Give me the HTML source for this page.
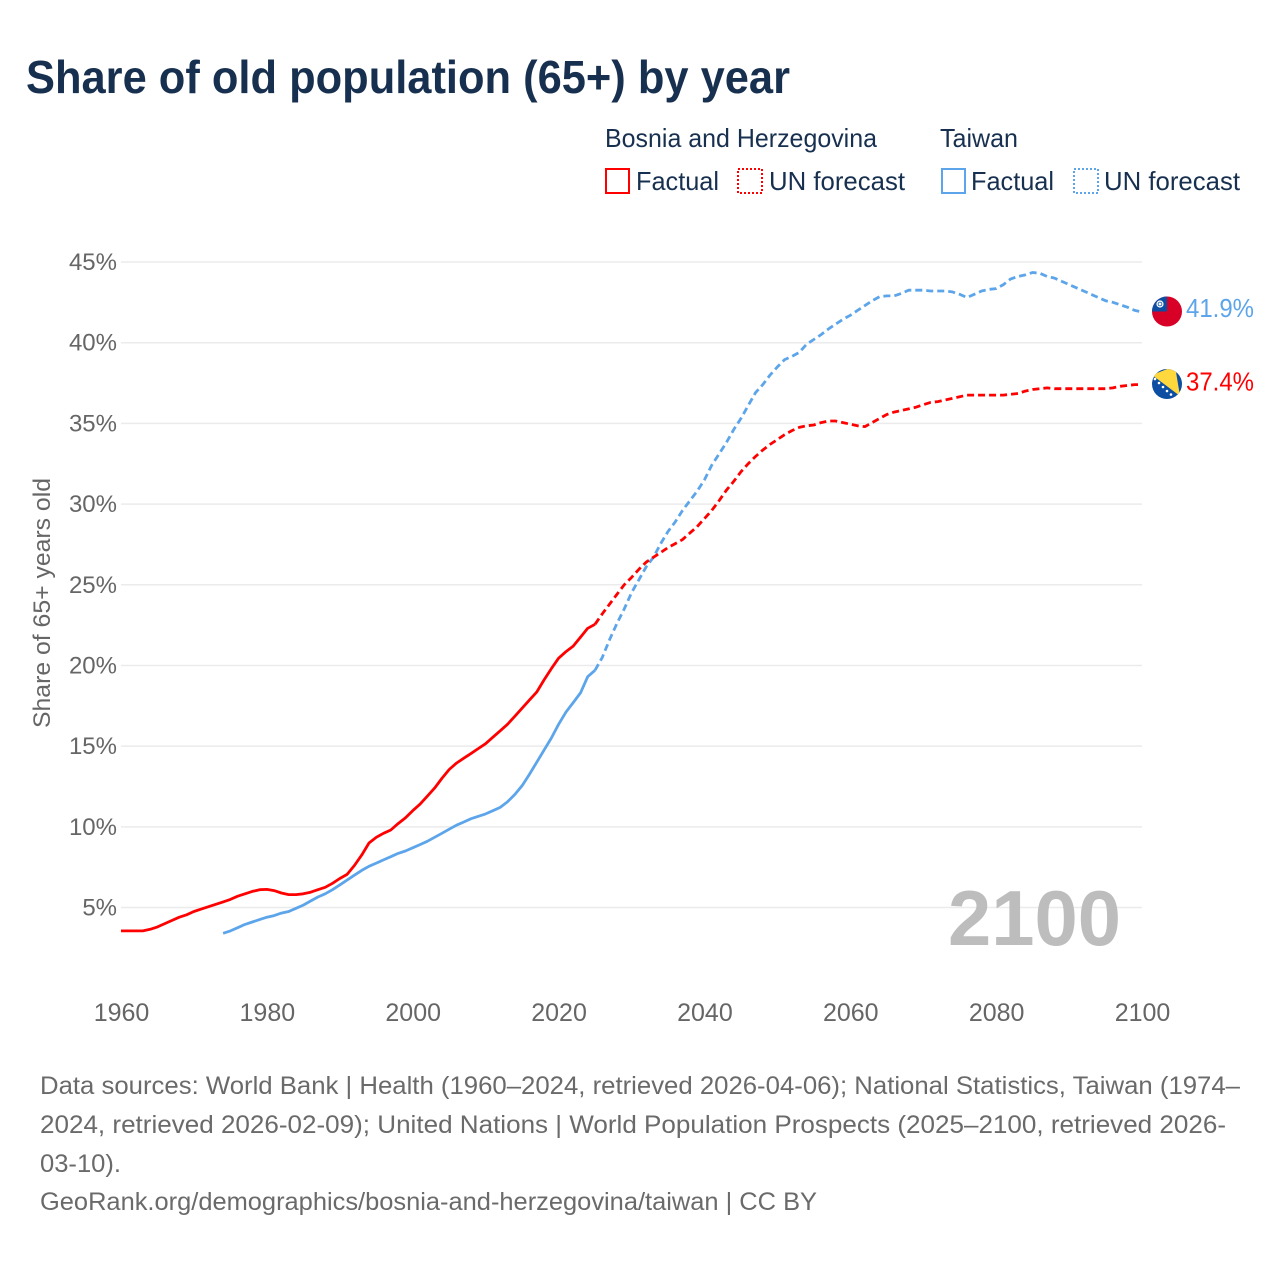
<!DOCTYPE html>
<html lang="en">
<head>
<meta charset="utf-8">
<title>Share of old population (65+) by year</title>
<style>
html,body{margin:0;padding:0;background:#fff;}
svg{display:block;font-family:"Liberation Sans",sans-serif;}
</style>
</head>
<body>
<svg id="chart" width="1280" height="1280" viewBox="0 0 1280 1280" xmlns="http://www.w3.org/2000/svg">
  <defs>
    <clipPath id="flag-clip-tw"><circle cx="1167" cy="311.5" r="15"/></clipPath>
    <clipPath id="flag-clip-ba"><circle cx="1167" cy="384" r="15"/></clipPath>
  </defs>
  <rect width="1280" height="1280" fill="#fff"/>
  <text x="26" y="93" font-size="46" font-weight="700" fill="#18304f" textLength="764" lengthAdjust="spacingAndGlyphs">Share of old population (65+) by year</text>

  <g font-size="26" fill="#18304f">
    <text x="605" y="147" textLength="272" lengthAdjust="spacingAndGlyphs">Bosnia and Herzegovina</text>
    <text x="940" y="147" textLength="78" lengthAdjust="spacingAndGlyphs">Taiwan</text>
    <rect x="606" y="169" width="23" height="24" fill="none" stroke="#ff0000" stroke-width="2"/>
    <text x="636" y="190" textLength="83" lengthAdjust="spacingAndGlyphs">Factual</text>
    <rect x="738" y="169" width="24" height="24" fill="none" stroke="#ff0000" stroke-width="2" stroke-dasharray="2 2"/>
    <text x="769" y="190" textLength="136" lengthAdjust="spacingAndGlyphs">UN forecast</text>
    <rect x="942" y="169" width="23" height="24" fill="none" stroke="#5da5ea" stroke-width="2"/>
    <text x="971" y="190" textLength="83" lengthAdjust="spacingAndGlyphs">Factual</text>
    <rect x="1074" y="169" width="24" height="24" fill="none" stroke="#5da5ea" stroke-width="2" stroke-dasharray="2 2"/>
    <text x="1104" y="190" textLength="136" lengthAdjust="spacingAndGlyphs">UN forecast</text>
  </g>

  <g id="grid"></g>
  <g id="y-ticks"></g>
  <g id="x-ticks"></g>
  <text transform="translate(50,603) rotate(-90)" text-anchor="middle" font-size="24" fill="#666" textLength="250" lengthAdjust="spacingAndGlyphs">Share of 65+ years old</text>

  <text x="948" y="945" font-size="78" font-weight="700" fill="#bdbdbd" textLength="173" lengthAdjust="spacingAndGlyphs">2100</text>

  <g id="series"></g>

  <g clip-path="url(#flag-clip-tw)">
    <rect x="1150" y="295" width="34" height="34" fill="#d80027"/>
    <rect x="1150" y="295" width="17" height="16.5" fill="#0b4ea2"/>
    <circle cx="1160" cy="304" r="3.6" fill="#fff"/>
    <circle cx="1160" cy="304" r="2.3" fill="#0b4ea2"/>
    <circle cx="1160" cy="304" r="1.5" fill="#fff"/>
  </g>
  <g clip-path="url(#flag-clip-ba)">
    <rect x="1150" y="367" width="34" height="34" fill="#0b4ea2"/>
    <polygon points="1152,375 1175,366 1180,396" fill="#ffd83d"/>
    <g fill="#fff">
      <circle cx="1155" cy="379" r="1.3"/>
      <circle cx="1159" cy="383" r="1.3"/>
      <circle cx="1163" cy="387" r="1.3"/>
      <circle cx="1167" cy="391" r="1.3"/>
      <circle cx="1171" cy="394.5" r="1.3"/>
    </g>
  </g>
  <text id="label-tw" x="1186" y="317" font-size="26" fill="#5da5ea" textLength="68" lengthAdjust="spacingAndGlyphs"></text>
  <text id="label-ba" x="1186" y="390.5" font-size="26" fill="#ff0000" textLength="68" lengthAdjust="spacingAndGlyphs"></text>

  <g font-size="25" fill="#6a6a6a">
    <text x="40" y="1094" textLength="1200" lengthAdjust="spacingAndGlyphs">Data sources: World Bank | Health (1960–2024, retrieved 2026-04-06); National Statistics, Taiwan (1974–</text>
    <text x="40" y="1133" textLength="1186" lengthAdjust="spacingAndGlyphs">2024, retrieved 2026-02-09); United Nations | World Population Prospects (2025–2100, retrieved 2026-</text>
    <text x="40" y="1172" textLength="81" lengthAdjust="spacingAndGlyphs">03-10).</text>
    <text x="40" y="1210" textLength="777" lengthAdjust="spacingAndGlyphs">GeoRank.org/demographics/bosnia-and-herzegovina/taiwan | CC BY</text>
  </g>
</svg>
<script>
const xTickYears = [1960, 1980, 2000, 2020, 2040, 2060, 2080, 2100];
const yTickValues = [5, 10, 15, 20, 25, 30, 35, 40, 45];
const bosniaFactualStart = 1960;
const bosniaFactual = [3.55,3.55,3.55,3.55,3.65,3.8,4.0,4.2,4.4,4.55,4.75,4.9,5.05,5.2,5.35,5.5,5.7,5.85,6.0,6.1,6.12,6.05,5.9,5.8,5.8,5.85,5.95,6.1,6.25,6.5,6.8,7.05,7.6,8.25,9.0,9.35,9.6,9.8,10.2,10.55,11.0,11.4,11.9,12.4,13.0,13.55,13.95,14.25,14.55,14.85,15.15,15.55,15.95,16.35,16.85,17.35,17.85,18.35,19.1,19.8,20.45,20.85,21.2,21.75,22.3,22.55];
const bosniaForecastStart = 2025;
const bosniaForecast = [22.55,23.2,23.8,24.4,25.0,25.45,25.95,26.4,26.7,27.0,27.3,27.55,27.8,28.2,28.6,29.1,29.6,30.2,30.85,31.4,32.0,32.5,32.95,33.35,33.7,34.0,34.3,34.55,34.75,34.85,34.9,35.05,35.15,35.15,35.05,34.95,34.85,34.8,35.05,35.3,35.55,35.7,35.8,35.9,36.0,36.15,36.3,36.35,36.45,36.55,36.65,36.75,36.75,36.75,36.75,36.75,36.75,36.8,36.85,37.0,37.1,37.15,37.2,37.15,37.15,37.15,37.15,37.15,37.15,37.15,37.15,37.2,37.3,37.35,37.4,37.4];
const taiwanFactualStart = 1974;
const taiwanFactual = [3.4,3.55,3.75,3.95,4.1,4.25,4.4,4.5,4.65,4.75,4.95,5.15,5.4,5.65,5.85,6.1,6.4,6.7,7.0,7.3,7.55,7.75,7.95,8.15,8.35,8.5,8.7,8.9,9.1,9.35,9.6,9.85,10.1,10.3,10.5,10.65,10.8,11.0,11.2,11.55,12.0,12.55,13.25,14.0,14.75,15.5,16.35,17.1,17.7,18.3,19.3,19.7];
const taiwanForecastStart = 2025;
const taiwanForecast = [19.7,20.5,21.6,22.6,23.5,24.5,25.3,26.1,26.7,27.55,28.3,28.9,29.6,30.2,30.8,31.5,32.4,33.1,33.8,34.6,35.3,36.1,36.9,37.4,38.0,38.5,38.95,39.15,39.4,39.9,40.2,40.5,40.85,41.15,41.45,41.7,42.0,42.3,42.6,42.85,42.9,42.9,43.05,43.25,43.25,43.25,43.2,43.2,43.2,43.15,43.0,42.8,43.0,43.2,43.3,43.35,43.6,43.95,44.1,44.2,44.35,44.3,44.1,44.0,43.8,43.6,43.4,43.2,43.0,42.8,42.6,42.5,42.35,42.2,42.0,41.9];

const svgNS = 'http://www.w3.org/2000/svg';
function xScale(year) { return 121 + (year - 1960) * (1142 - 121) / 140; }
function yScale(value) { return 907.5 - (value - 5) * (907.5 - 262) / 40; }
function linePoints(start, values) {
  return values.map(function (v, i) { return xScale(start + i).toFixed(1) + ',' + yScale(v).toFixed(1); }).join(' ');
}

const gridGroup = document.getElementById('grid');
const yGroup = document.getElementById('y-ticks');
yTickValues.forEach(function (v) {
  const line = document.createElementNS(svgNS, 'line');
  
  
  line.setAttribute('x1', xScale(1960));
  line.setAttribute('x2', xScale(2100));
  line.setAttribute('y1', yScale(v));
  line.setAttribute('y2', yScale(v));
  line.setAttribute('stroke', '#ebebeb');
  line.setAttribute('stroke-width', '1.5');
  gridGroup.appendChild(line);

  const label = document.createElementNS(svgNS, 'text');
  
  
  label.setAttribute('x', 117);
  label.setAttribute('y', yScale(v) + 8);
  label.setAttribute('text-anchor', 'end');
  label.setAttribute('font-size', '24');
  label.setAttribute('fill', '#666');
  label.textContent = v + '%';
  yGroup.appendChild(label);
});

const xGroup = document.getElementById('x-ticks');
xTickYears.forEach(function (year) {
  const label = document.createElementNS(svgNS, 'text');
  
  
  label.setAttribute('x', xScale(year) + 0.5);
  label.setAttribute('y', 1021);
  label.setAttribute('text-anchor', 'middle');
  label.setAttribute('font-size', '25');
  label.setAttribute('fill', '#666');
  label.textContent = year;
  xGroup.appendChild(label);
});

const seriesGroup = document.getElementById('series');
function drawLine(name, start, values, color, dashed) {
  const line = document.createElementNS(svgNS, 'polyline');
  
  
  line.setAttribute('points', linePoints(start, values));
  line.setAttribute('fill', 'none');
  line.setAttribute('stroke', color);
  line.setAttribute('stroke-width', '2.8');
  line.setAttribute('stroke-linejoin', 'round');
  if (dashed) { line.setAttribute('stroke-dasharray', '7 4'); }
  seriesGroup.appendChild(line);
}
drawLine('line-taiwan-factual', taiwanFactualStart, taiwanFactual, '#5da5ea', false);
drawLine('line-taiwan-forecast', taiwanForecastStart, taiwanForecast, '#5da5ea', true);
drawLine('line-bosnia-factual', bosniaFactualStart, bosniaFactual, '#ff0000', false);
drawLine('line-bosnia-forecast', bosniaForecastStart, bosniaForecast, '#ff0000', true);

document.getElementById('label-tw').textContent = taiwanForecast[taiwanForecast.length - 1].toFixed(1) + '%';
document.getElementById('label-ba').textContent = bosniaForecast[bosniaForecast.length - 1].toFixed(1) + '%';
</script>
</body>
</html>
